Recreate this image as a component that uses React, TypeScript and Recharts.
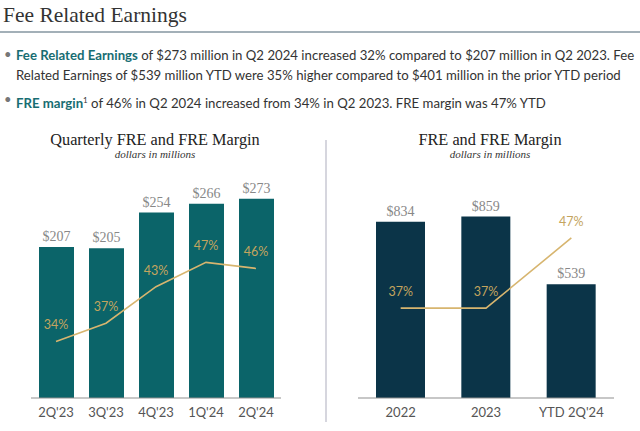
import React from "react";
import { ComposedChart, Bar, Line, XAxis, YAxis, LabelList } from "recharts";

const quarters = ["2Q'23", "3Q'23", "4Q'23", "1Q'24", "2Q'24"];
const quarterlyFre = [207, 205, 254, 266, 273];
const quarterlyMargin = [34, 37, 43, 47, 46];

const periods = ["2022", "2023", "YTD 2Q'24"];
const periodFre = [834, 859, 539];
const periodMargin = [37, 37, 47];

const quarterlyData = quarters.map((q, i) => ({ name: q, fre: quarterlyFre[i], margin: quarterlyMargin[i] }));
const periodData = periods.map((p, i) => ({ name: p, fre: periodFre[i], margin: periodMargin[i] }));

const TEAL = "#0b6469";
const NAVY = "#0b3448";
const GOLD = "#d7b56f";
const SERIF = "'Liberation Serif', 'DejaVu Serif', serif";
const SANS = "Lato, 'Open Sans', sans-serif";

const MarginLabel = (props: any) => {
  const { x, y, value } = props;
  return (
    <text x={x} y={y - 12} textAnchor="middle" fill="#c4a45e" fontSize={12.5} fontFamily={SANS}>
      {value}%
    </text>
  );
};

const FreLabel = (props: any) => {
  const { x, y, width, value } = props;
  return (
    <text x={x + width / 2} y={y - 6} textAnchor="middle" fill="#888" fontSize={14} fontFamily={SERIF}>
      ${value}
    </text>
  );
};

function FreChart({ data, color, barSize, margin, freMax, pctDomain }: any) {
  return (
    <ComposedChart width={320} height={311} data={data} margin={margin}>
      <XAxis
        dataKey="name"
        height={30}
        tickLine={false}
        axisLine={{ stroke: "#8f8f8f" }}
        tick={{ fontSize: 13, fill: "#555", fontFamily: SANS }}
        tickMargin={4}
        interval={0}
      />
      <YAxis yAxisId="fre" hide domain={[0, freMax]} />
      <YAxis yAxisId="pct" hide orientation="right" domain={pctDomain} />
      <Bar yAxisId="fre" dataKey="fre" fill={color} barSize={barSize} isAnimationActive={false}>
        <LabelList dataKey="fre" content={FreLabel} />
      </Bar>
      <Line
        yAxisId="pct"
        dataKey="margin"
        type="linear"
        stroke={GOLD}
        strokeWidth={1.6}
        dot={false}
        isAnimationActive={false}
      >
        <LabelList dataKey="margin" content={MarginLabel} />
      </Line>
    </ComposedChart>
  );
}

const titleStyle: React.CSSProperties = {
  position: "absolute",
  top: 130,
  textAlign: "center",
  fontFamily: SERIF,
  fontSize: 16.3,
  color: "#222",
};

const subStyle: React.CSSProperties = {
  position: "absolute",
  top: 148,
  textAlign: "center",
  fontFamily: SERIF,
  fontStyle: "italic",
  fontSize: 11,
  color: "#333",
};

const lineStyle = (top: number): React.CSSProperties => ({
  position: "absolute",
  left: 16,
  top,
  whiteSpace: "nowrap",
  fontFamily: SANS,
  fontSize: 13.2,
  color: "#333",
  lineHeight: "20px",
});

const dotStyle = (top: number): React.CSSProperties => ({
  position: "absolute",
  left: 4,
  top,
  fontFamily: SANS,
  fontSize: 13,
  color: "#777",
  lineHeight: "20px",
});

export default function App() {
  return (
    <div style={{ position: "absolute", left: 0, top: 0, width: 640, height: 431, background: "#fff", overflow: "hidden" }}>
      <div style={{ position: "absolute", left: 3, top: 3, fontFamily: SERIF, fontSize: 21.5, color: "#333" }}>
        Fee Related Earnings
      </div>
      <div style={{ position: "absolute", left: 0, top: 31, width: 640, height: 2, background: "#a3b0b8" }} />

      <span style={dotStyle(44)}>•</span>
      <div style={lineStyle(45)}>
        <span style={{ fontWeight: 700, color: "#176d72" }}>Fee Related Earnings</span> of $273 million in Q2 2024 increased 32% compared to $207 million in Q2 2023. Fee
      </div>
      <div style={lineStyle(65)}>
        Related Earnings of $539 million YTD were 35% higher compared to $401 million in the prior YTD period
      </div>
      <span style={dotStyle(89)}>•</span>
      <div style={lineStyle(90)}>
        <span style={{ fontWeight: 700, color: "#176d72" }}>FRE margin</span>
        <sup style={{ fontSize: 8 }}>1</sup> of 46% in Q2 2024 increased from 34% in Q2 2023. FRE margin was 47% YTD
      </div>

      <div style={{ ...titleStyle, left: 0, width: 310 }}>Quarterly FRE and FRE Margin</div>
      <div style={{ ...subStyle, left: 0, width: 310 }}>dollars in millions</div>
      <div style={{ ...titleStyle, left: 330, width: 320 }}>FRE and FRE Margin</div>
      <div style={{ ...subStyle, left: 330, width: 320 }}>dollars in millions</div>
      <div style={{ position: "absolute", left: 325, top: 140, width: 2, height: 282, background: "#d6d6de" }} />

      <div style={{ position: "absolute", left: 0, top: 120 }}>
        <FreChart
          data={quarterlyData}
          color={TEAL}
          barSize={35}
          margin={{ top: 59, right: 39, bottom: 3, left: 31 }}
          freMax={300}
          pctDomain={[24.7, 60.7]}
        />
      </div>
      <div style={{ position: "absolute", left: 320, top: 120 }}>
        <FreChart
          data={periodData}
          color={NAVY}
          barSize={49}
          margin={{ top: 59, right: 26, bottom: 3, left: 38 }}
          freMax={1037}
          pctDomain={[24.2, 55.4]}
        />
      </div>
    </div>
  );
}
